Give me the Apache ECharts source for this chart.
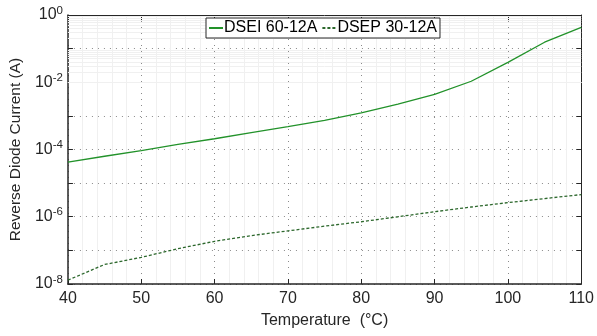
<!DOCTYPE html>
<html>
<head>
<meta charset="utf-8">
<script src="https://cdn.jsdelivr.net/npm/echarts@6/dist/echarts.min.js"></script>
<style>
  html, body { margin: 0; padding: 0; background: #fff; }
  #chart { width: 597px; height: 336px; }
</style>
</head>
<body>
<div id="chart"></div>
<script>
// temperature (°C)
const temps = [40, 45, 50, 55, 60, 65, 70, 75, 80, 85, 90, 95, 100, 105, 110]
// reverse current (A)
const dsei = [4.2e-5, 6.3e-5, 9.3e-5, 1.41e-4, 2.09e-4, 3.16e-4, 4.79e-4, 7.4e-4, 1.23e-3, 2.24e-3, 4.37e-3, 1.07e-2, 3.9e-2, 0.155, 0.43]
const dsep = [1.3e-8, 3.8e-8, 6.2e-8, 1.12e-7, 1.86e-7, 2.75e-7, 3.8e-7, 5.25e-7, 7.1e-7, 1.0e-6, 1.41e-6, 1.95e-6, 2.63e-6, 3.47e-6, 4.57e-6]
const seriesNames = ['DSEI 60-12A', 'DSEP 30-12A']
const xTicks = [40, 50, 60, 70, 80, 90, 100, 110]
const yExps = [-8, -6, -4, -2, 0]

const font = 'Liberation Sans, Arial, sans-serif'
const axisColor = '#262626'

// faint minor grid at 2..9 of each decade
const minorY = []
for (let e = -8; e < 0; e++) {
  for (let m = 2; m <= 9; m++) minorY.push({ yAxis: m * Math.pow(10, e) })
}

const chart = echarts.init(document.getElementById('chart'))
chart.setOption({
  animation: false,
  grid: { left: 62, right: 12, top: 15, bottom: 52 },
  legend: {
    data: seriesNames,
    left: 206,
    top: 18,
    padding: [2, 3, 2, 2],
    itemGap: 4,
    itemWidth: 14,
    itemHeight: 2,
    borderColor: '#262626',
    borderWidth: 1,
    backgroundColor: '#fff',
    textStyle: { fontFamily: font, fontSize: 16, color: '#000', padding: [0, 0, 0, -4] }
  },
  xAxis: [{
    type: 'value',
    min: 40,
    max: 110,
    interval: 10,
    name: 'Temperature  (°C)',
    nameLocation: 'middle',
    nameGap: 29,
    nameTextStyle: { fontFamily: font, fontSize: 16, color: axisColor },
    axisLine: { lineStyle: { color: axisColor, width: 1.5 } },
    axisTick: { inside: true, length: 5, lineStyle: { color: axisColor } },
    axisLabel: {
      fontFamily: font, fontSize: 16, color: axisColor, margin: 7,
      formatter: v => xTicks.includes(v) ? String(v) : ''
    },
    splitLine: { show: true, lineStyle: { color: '#8a8a8a', type: [1, 5], width: 1 } },
    minorTick: { show: false, splitNumber: 5 },
    minorSplitLine: { show: true, lineStyle: { color: '#f0f0f0', width: 1 } }
  }, {
    type: 'value',
    position: 'top',
    min: 40,
    max: 110,
    interval: 10,
    axisLine: { show: true, lineStyle: { color: axisColor, width: 1 } },
    axisTick: { show: true, inside: true, length: 5, lineStyle: { color: axisColor } },
    axisLabel: { show: false },
    splitLine: { show: false }
  }],
  yAxis: [{
    type: 'log',
    logBase: 10,
    min: 1e-8,
    max: 1,
    splitNumber: 8,
    name: 'Reverse Diode Current (A)',
    nameLocation: 'middle',
    nameGap: 39,
    nameTextStyle: { fontFamily: font, fontSize: 15.5, color: axisColor },
    axisLine: { show: true, lineStyle: { color: axisColor, width: 1.5 } },
    axisTick: { inside: true, length: 5, lineStyle: { color: axisColor } },
    axisLabel: {
      fontFamily: font, fontSize: 16, color: axisColor, margin: 5,
      formatter: v => {
        const e = Math.round(Math.log10(v))
        return yExps.includes(e) ? '10{s|' + e + '}' : ''
      },
      rich: {
        s: { fontFamily: font, fontSize: 11.5, color: axisColor, verticalAlign: 'bottom', padding: [0, 0, 9, 0] }
      }
    },
    splitLine: { show: true, lineStyle: { color: '#8a8a8a', type: [1, 5], width: 1 } }
  }, {
    type: 'log',
    logBase: 10,
    min: 1e-8,
    max: 1,
    splitNumber: 8,
    position: 'right',
    axisLine: { show: true, lineStyle: { color: axisColor, width: 1 } },
    axisTick: { show: true, inside: true, length: 5, lineStyle: { color: axisColor } },
    axisLabel: { show: false },
    splitLine: { show: false }
  }],
  series: [
    {
      name: seriesNames[0],
      type: 'line',
      symbol: 'none',
      data: temps.map((t, i) => [t, dsei[i]]),
      lineStyle: { color: '#22922a', width: 1.3 },
      itemStyle: { color: '#22922a' },
      z: 5,
      markLine: {
        silent: true,
        symbol: 'none',
        label: { show: false },
        lineStyle: { color: '#f0f0f0', type: 'solid', width: 1 },
        data: minorY,
        z: 1
      }
    },
    {
      name: seriesNames[1],
      type: 'line',
      symbol: 'none',
      data: temps.map((t, i) => [t, dsep[i]]),
      lineStyle: { color: '#2d682d', width: 1.3, type: [3, 2] },
      itemStyle: { color: '#2d682d' },
      z: 5
    }
  ]
})
</script>
</body>
</html>
